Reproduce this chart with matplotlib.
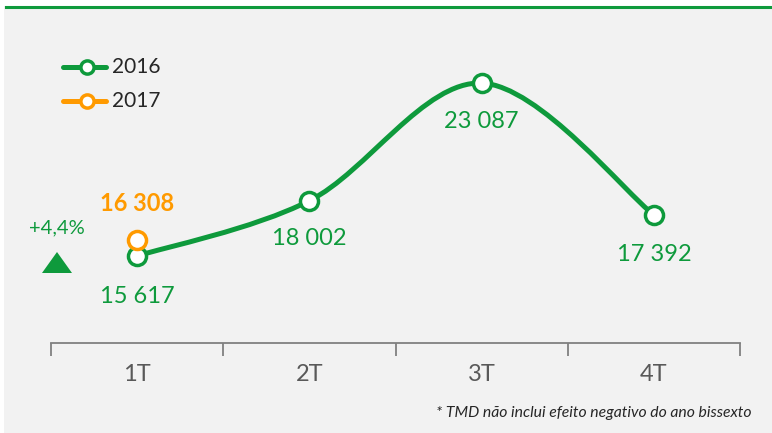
import numpy as np
import matplotlib.pyplot as plt
from matplotlib.path import Path
from matplotlib.patches import PathPatch, Rectangle

# dados
quarters = ["1T", "2T", "3T", "4T"]
values_2016 = [15617, 18002, 23087, 17392]
values_2017 = [16308]
growth_label = "+4,4%"
footnote = "* TMD não inclui efeito negativo do ano bissexto"

green = "#0e9a3c"
orange = "#ff9a00"
bg = "#f2f2f2"

plt.rcParams['font.family'] = ['Lato', 'DejaVu Sans']

W, H = 772, 433
fig = plt.figure(figsize=(W / 100, H / 100), dpi=100)
fig.patch.set_facecolor("white")

# fundo cinzento e linha verde no topo
fig.patches.append(Rectangle((4 / W, 0), 1, 1 - 6 / H, transform=fig.transFigure,
                             facecolor=bg, edgecolor="none", zorder=-5))
fig.add_artist(plt.Line2D([6 / W, 1], [1 - 7 / H, 1 - 7 / H], transform=fig.transFigure,
                          color=green, lw=2.2))

# eixo: x de 51 a 740 px, y de 30 a 343 px (a partir do topo)
ax = fig.add_axes([51 / W, (H - 343) / H, (740 - 51) / W, (343 - 30) / H])
ax.set_facecolor("none")
x = np.arange(1, len(quarters) + 1)
ax.set_xlim(0.5, len(quarters) + 0.5)
ax.set_ylim(11858, 25380)

for s in ["top", "right", "left"]:
    ax.spines[s].set_visible(False)
ax.spines["bottom"].set_color("#808080")
ax.spines["bottom"].set_linewidth(1.3)
ax.set_yticks([])
ax.set_xticks(np.arange(0.5, len(quarters) + 1, 1.0))
ax.set_xticklabels([])
ax.tick_params(axis="x", length=9, width=1.3, color="#808080", direction="out")
for xi, q in zip(x, quarters):
    ax.text(xi, -0.1, q, transform=ax.get_xaxis_transform(), ha="center", va="center",
            fontsize=17, color="#595959")

# linha suavizada (Bezier tipo Excel)
pts = np.column_stack([x, values_2016]).astype(float)
ext = np.vstack([pts[0], pts, pts[-1]])
verts = [tuple(pts[0])]
codes = [Path.MOVETO]
for i in range(len(pts) - 1):
    p0, p1, p2, p3 = ext[i], ext[i + 1], ext[i + 2], ext[i + 3]
    c1 = p1 + (p2 - p0) / 6
    c2 = p2 - (p3 - p1) / 6
    verts += [tuple(c1), tuple(c2), tuple(p2)]
    codes += [Path.CURVE4] * 3
ax.add_patch(PathPatch(Path(verts, codes), facecolor="none", edgecolor=green,
                       lw=3.6, capstyle="round", zorder=2))

ax.plot(x, values_2016, ls="none", marker="o", ms=13, mfc="white", mec=green,
        mew=2.5, zorder=3)
ax.plot(x[:1], values_2017, ls="none", marker="o", ms=13, mfc="white", mec=orange,
        mew=2.5, zorder=4)

# rótulos dos valores (deslocamento em px, negativo = abaixo)
def fmt(v):
    return f"{v:,}".replace(",", " ")

offsets = [-41, -38, -38, -40]
for xi, v, off in zip(x, values_2016, offsets):
    ax.annotate(fmt(v), (xi, v), xytext=(0, off * 0.72),
                textcoords="offset points", ha="center", va="center",
                fontsize=17, color=green)
ax.annotate(fmt(values_2017[0]), (x[0], values_2017[0]), xytext=(0, 36 * 0.72),
            textcoords="offset points", ha="center", va="center",
            fontsize=17, color=orange, fontweight="bold")

# variação
fig.text(57 / W, 1 - 228 / H, growth_label, ha="center", va="center",
         fontsize=14.5, color=green)
fig.patches.append(plt.Polygon([[42 / W, 1 - 273 / H], [72 / W, 1 - 273 / H],
                                [57 / W, 1 - 252 / H]], closed=True,
                               transform=fig.transFigure, facecolor=green,
                               edgecolor="none", zorder=5))

# legenda
for yy, col, lab in [(67, green, "2016"), (101, orange, "2017")]:
    yf = 1 - yy / H
    fig.add_artist(plt.Line2D([63 / W, 106 / W], [yf, yf], transform=fig.transFigure,
                              color=col, lw=3.6, solid_capstyle="round"))
    fig.add_artist(plt.Line2D([87 / W], [yf], transform=fig.transFigure, color=col,
                              marker="o", ms=9.5, mfc="white", mec=col, mew=2.5))
    fig.text(112 / W, yf, lab, ha="left", va="center", fontsize=15, color="#262626")

fig.text(751 / W, 1 - 413 / H, footnote, ha="right", va="center", fontsize=11.3,
         style="italic", color="#262626")

fig.savefig("out.png", dpi=100, facecolor=fig.get_facecolor())
